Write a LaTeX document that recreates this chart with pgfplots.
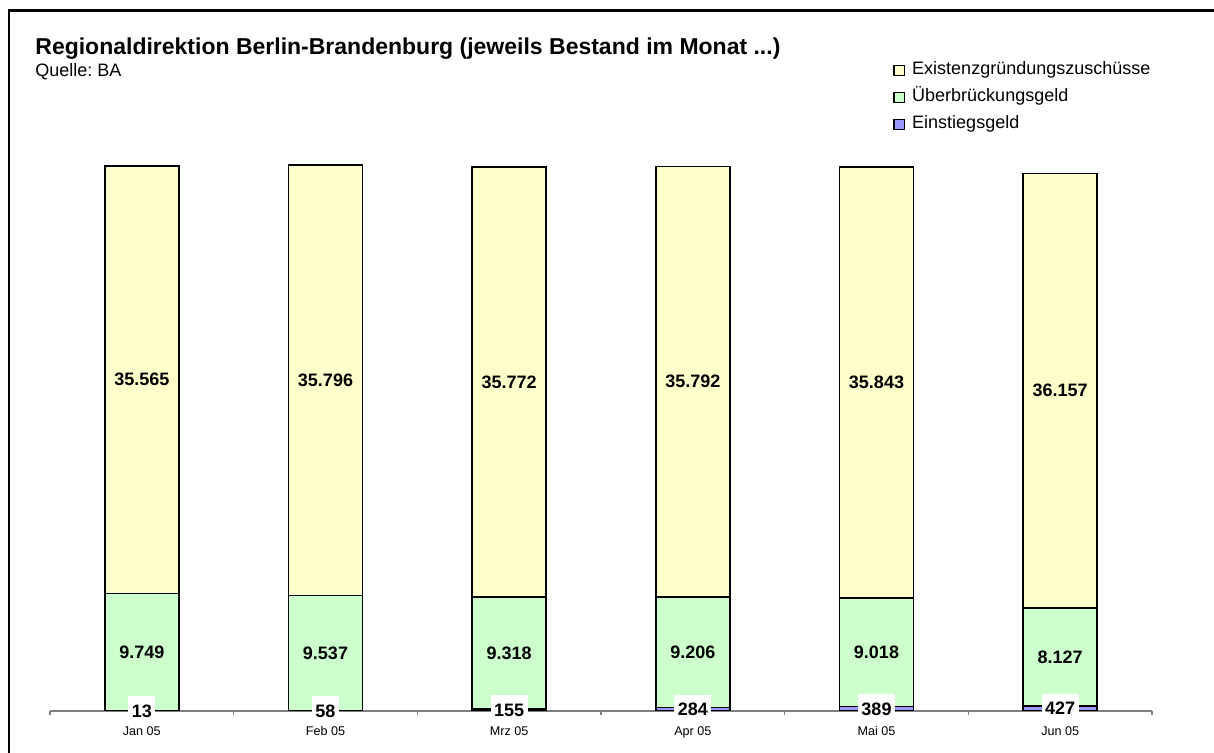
\documentclass[border=0pt]{standalone}
\usepackage{pgfplots}
\pgfplotsset{compat=1.18}
\usepackage{pgfplotstable}
\usepackage{fontspec}
\setmainfont{Liberation Sans}
\frenchspacing
\definecolor{cEx}{HTML}{FFFFCC}
\definecolor{cUe}{HTML}{CCFFCC}
\definecolor{cEin}{HTML}{9999FF}
\definecolor{axgray}{HTML}{808080}
\pgfplotsset{/pgf/number format/1000 sep={.}, /pgf/number format/assume math mode=true}

\pgfplotstableread{
x ein ue ex
0 13 9749 35565
1 58 9537 35796
2 155 9318 35772
3 284 9206 35792
4 389 9018 35843
5 427 8127 36157
}\datatable

\begin{document}
\begin{tikzpicture}
\useasboundingbox (0,0) rectangle (607pt,376.5pt);
\draw[line width=1.2pt] (4.35pt,-2pt) -- (4.35pt,371.25pt) -- (612pt,371.25pt);
\node[anchor=base west, font=\fontsize{11.5}{13}\selectfont\bfseries, inner sep=0pt] at (17.5pt,349pt) {Regionaldirektion Berlin-Brandenburg (jeweils Bestand im Monat ...)};
\node[anchor=base west, font=\fontsize{9}{11}\selectfont, inner sep=0pt] at (17.5pt,338pt) {Quelle: BA};

\begin{axis}[
  at={(25pt,21pt)}, anchor=south west,
  scale only axis, width=551pt, height=300.6pt,
  xmin=-0.5, xmax=5.5, ymin=0, ymax=50000,
  ybar stacked, bar width=37pt,
  axis y line=none, axis x line*=bottom,
  x axis line style={draw=axgray, line width=0.75pt, -},
  xtick={0,...,5},
  xticklabels={Jan 05,Feb 05,Mrz 05,Apr 05,Mai 05,Jun 05},
  major tick length=0pt,
  minor xtick={-0.5,0.5,...,5.5}, minor tick length=2pt,
  tick align=outside,
  every tick/.style={draw=axgray, line width=0.75pt},
  xticklabel style={font=\fontsize{6.3}{7}\selectfont, inner sep=0pt, yshift=-7.5pt},
  legend cell align=left,
  reverse legend,
  legend style={at={(0.7650,1.0803)}, anchor=north west, draw=none, fill=none,
    inner sep=0pt, column sep=3.5pt, row sep=5pt, font=\fontsize{9}{11}\selectfont,
    nodes={inner sep=0pt, text height=6.5pt, text depth=2pt}},
]
\addplot[fill=cEin, draw=black, line width=0.75pt,
  legend image code/.code={\draw[fill=cEin, draw=black, line width=0.7pt] (0pt,-2.6pt) rectangle (5.2pt,2.6pt);}]
  table[x=x, y=ein]{\datatable};
\addplot[fill=cUe, draw=black, line width=0.75pt,
  legend image code/.code={\draw[fill=cUe, draw=black, line width=0.7pt] (0pt,-2.6pt) rectangle (5.2pt,2.6pt);}]
  table[x=x, y=ue]{\datatable};
\addplot[fill=cEx, draw=black, line width=0.75pt,
  legend image code/.code={\draw[fill=cEx, draw=black, line width=0.7pt] (0pt,-2.6pt) rectangle (5.2pt,2.6pt);}]
  table[x=x, y=ex]{\datatable};
\legend{Einstiegsgeld, Überbrückungsgeld, Existenzgründungszuschüsse}
\end{axis}

\begin{axis}[
  at={(25pt,21pt)}, anchor=south west,
  scale only axis, width=551pt, height=300.6pt,
  xmin=-0.5, xmax=5.5, ymin=0, ymax=50000,
  hide axis, clip=false,
  nodes near coords, point meta=explicit,
  nodes near coords align={center},
  every node near coord/.append style={font=\fontsize{9}{11}\selectfont\bfseries, anchor=center},
]
\addplot[only marks, mark=none, nodes near coords]
  table[x=x, y expr=\thisrow{ein}+\thisrow{ue}+0.5*\thisrow{ex}, meta=ex]{\datatable};
\addplot[only marks, mark=none, nodes near coords]
  table[x=x, y expr=\thisrow{ein}+0.5*\thisrow{ue}, meta=ue]{\datatable};
\addplot[only marks, mark=none, nodes near coords,
  every node near coord/.append style={fill=white, inner xsep=1.75pt, inner ysep=2.5pt, text height=8pt, text depth=0pt, yshift=0.8pt}]
  table[x=x, y expr=0.5*\thisrow{ein}, meta=ein]{\datatable};
\end{axis}
\end{tikzpicture}
\end{document}
